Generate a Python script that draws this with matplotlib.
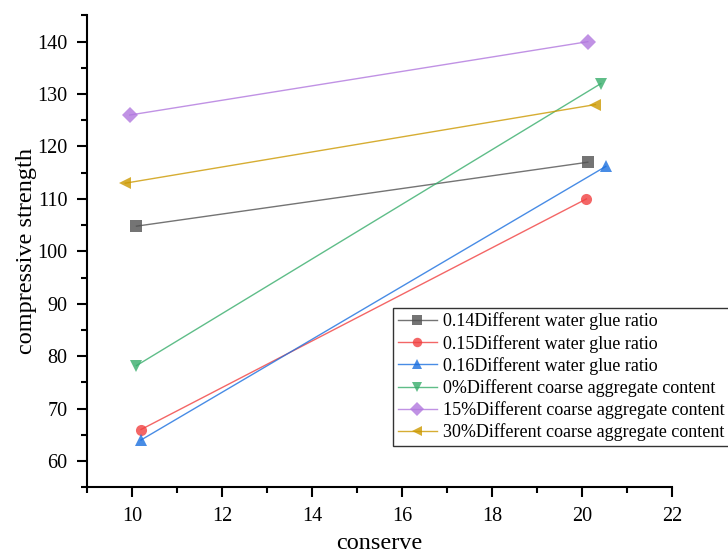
import matplotlib.pyplot as plt
from matplotlib.ticker import MultipleLocator

# data
labels = ["0.14Different water glue ratio",
          "0.15Different water glue ratio",
          "0.16Different water glue ratio",
          "0%Different coarse aggregate content",
          "15%Different coarse aggregate content",
          "30%Different coarse aggregate content"]
x_vals = [[10.1, 20.13], [10.2, 20.1], [10.2, 20.53],
          [10.1, 20.42], [9.95, 20.13], [9.85, 20.3]]
y_vals = [[104.8, 117], [66, 110], [64, 116.2],
          [78.2, 132], [126, 140], [113, 128]]
colors = ["#515151", "#F14040", "#1A6FDF", "#37AD6B", "#B177DE", "#CC9900"]
markers = ["s", "o", "^", "v", "D", "<"]
msizes = [8, 8, 9, 9, 8, 9]

plt.rcParams['font.family'] = ['Liberation Serif', 'DejaVu Serif']

fig = plt.figure(figsize=(7.28, 5.53), dpi=100)
ax = fig.add_axes([0.1195, 0.119, 0.8035, 0.854])

for i in range(len(labels)):
    ax.plot(x_vals[i], y_vals[i], color=colors[i], lw=1, alpha=0.8,
            marker=markers[i], ms=msizes[i], mfc=colors[i], mec=colors[i],
            markeredgewidth=0, label=labels[i])

ax.set_xlim(9, 22)
ax.set_ylim(55, 145.1)
ax.xaxis.set_minor_locator(MultipleLocator(1))
ax.yaxis.set_minor_locator(MultipleLocator(5))
ax.set_xticks(range(10, 23, 2))
ax.set_yticks(range(60, 141, 10))

for s in ["top", "right"]:
    ax.spines[s].set_visible(False)
for s in ["left", "bottom"]:
    ax.spines[s].set_linewidth(1.5)

ax.tick_params(which='major', direction='out', length=7, width=1.5,
               labelsize=14.5, pad=7)
ax.tick_params(which='minor', direction='out', length=4, width=1.5)

ax.set_xlabel("conserve", fontsize=17.5, labelpad=5)
ax.set_ylabel("compressive strength", fontsize=17.5, labelpad=0)

leg = ax.legend(loc='upper left', bbox_to_anchor=(393 / 728, 1 - 308 / 553),
                bbox_transform=fig.transFigure, fontsize=13, frameon=True,
                fancybox=False, edgecolor='black', handlelength=2.2,
                handletextpad=0.3, borderpad=0.25, labelspacing=0.24,
                borderaxespad=0, markerscale=0.85)
leg.get_frame().set_linewidth(1)

fig.savefig("out.png", dpi=100)
